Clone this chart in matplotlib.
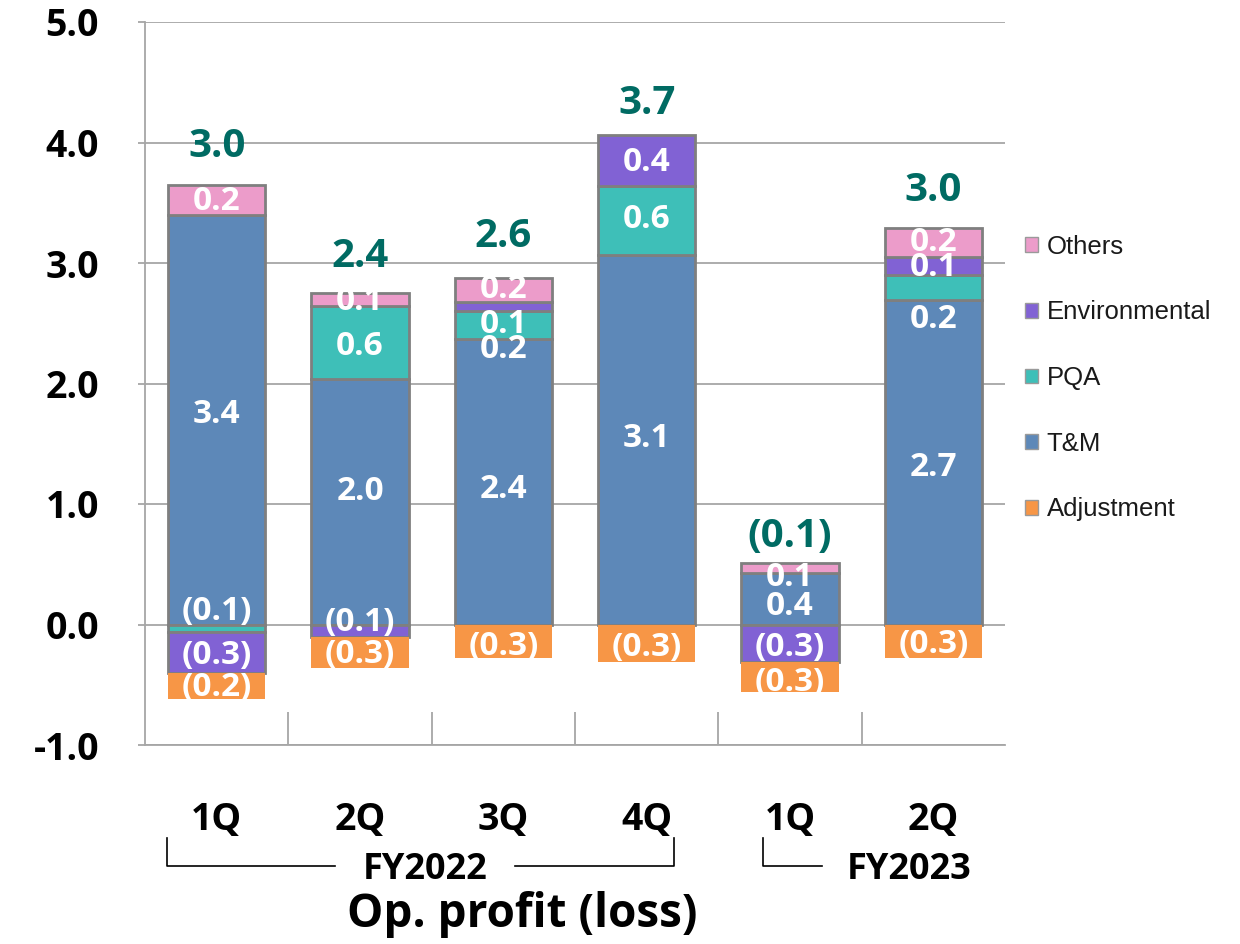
import matplotlib
matplotlib.use('Agg')
import matplotlib.pyplot as plt
from matplotlib.patches import Rectangle, Patch
from matplotlib.lines import Line2D
import numpy as np

plt.rcParams['axes.unicode_minus'] = False
plt.rcParams['font.family'] = ['Open Sans', 'DejaVu Sans']

# ---------------- data ----------------
categories = ['1Q', '2Q', '3Q', '4Q', '1Q', '2Q']
tm = [3.40, 2.04, 2.37, 3.07, 0.43, 2.69]
pqa = [-0.06, 0.60, 0.23, 0.57, 0.0, 0.21]
env = [-0.34, -0.10, 0.075, 0.42, -0.31, 0.15]
others = [0.25, 0.115, 0.20, 0.0, 0.08, 0.24]
adjustment = [-0.22, -0.26, -0.28, -0.31, -0.25, -0.28]

totals_lbl = ['3.0', '2.4', '2.6', '3.7', '(0.1)', '3.0']

tm_lbl = ['3.4', '2.0', '2.4', '3.1', '0.4', '2.7']
pqa_lbl = ['(0.1)', '0.6', '0.2', '0.6', '', '0.2']
env_lbl = ['(0.3)', '(0.1)', '0.1', '0.4', '(0.3)', '0.1']
others_lbl = ['0.2', '0.1', '0.2', '', '0.1', '0.2']
adj_lbl = ['(0.2)', '(0.3)', '(0.3)', '(0.3)', '(0.3)', '(0.3)']

# label positions (data units)
totals_ly = [3.97, 3.05, 3.22, 4.32, 0.73, 3.60]
tm_ly = [1.74, 1.10, 1.12, 1.54, 0.15, 1.30]
pqa_ly = [0.11, 2.31, 2.28, 3.36, 0.0, 2.53]
env_ly = [-0.26, 0.02, 2.49, 3.83, -0.19, 2.96]
others_ly = [3.51, 2.68, 2.78, 0.0, 0.39, 3.17]
adj_ly = [-0.52, -0.25, -0.18, -0.19, -0.48, -0.17]

# ---------------- styling ----------------
C_TM = '#5D88B8'
C_PQA = '#3EBFB8'
C_ENV = '#8162D4'
C_OTH = '#EC9CCA'
C_ADJ = '#F79646'
C_TOT = '#006B63'
EDGE = '#7F7F7F'
GRID = '#A6A6A6'

W, H = 1240, 944
fig = plt.figure(figsize=(W / 100, H / 100), dpi=100)
ax = fig.add_axes([145 / W, 1 - 745 / H, 860 / W, (745 - 22) / H])

x = np.arange(len(categories))
bw = 0.68

series = [
    ('T&M', tm, C_TM, EDGE, tm_lbl, tm_ly),
    ('PQA', pqa, C_PQA, EDGE, pqa_lbl, pqa_ly),
    ('Environmental', env, C_ENV, EDGE, env_lbl, env_ly),
    ('Others', others, C_OTH, EDGE, others_lbl, others_ly),
    ('Adjustment', adjustment, C_ADJ, 'none', adj_lbl, adj_ly),
]

pos = np.zeros(len(x))
neg = np.zeros(len(x))
for name, vals, col, ec, lbl, ly in series:
    v = np.array(vals, dtype=float)
    bottom = np.where(v >= 0, pos, neg)
    mask = v != 0
    ax.bar(x[mask], v[mask], bw, bottom=bottom[mask], color=col,
           edgecolor=ec, linewidth=2.0, zorder=3)
    pos += np.clip(v, 0, None)
    neg += np.clip(v, None, 0)

# inner labels (clipped to the bar extent)
for name, vals, col, ec, lbl, ly in series:
    for i in range(len(x)):
        if not lbl[i]:
            continue
        t = ax.text(x[i], ly[i], lbl[i], ha='center', va='center',
                    color='white', fontsize=24, fontweight='bold', zorder=5)
        clip = Rectangle((x[i] - bw / 2 - 0.02, neg[i]), bw + 0.04,
                         pos[i] - neg[i], transform=ax.transData)
        t.set_clip_path(clip)

# totals
for i in range(len(x)):
    ax.text(x[i], totals_ly[i], totals_lbl[i], ha='center', va='center',
            color=C_TOT, fontsize=29, fontweight='bold', zorder=5)

# axes
ax.set_xlim(-0.5, len(x) - 0.5)
ax.set_ylim(-1.0, 5.0)
ax.set_yticks(np.arange(-1, 6, 1))
ax.set_yticklabels([f'{v:.1f}' for v in np.arange(-1, 6, 1)],
                   fontsize=27, fontweight='bold')
ax.yaxis.grid(True, color=GRID, linewidth=1.3, zorder=0)
ax.set_axisbelow(True)
for s in ['top', 'right']:
    ax.spines[s].set_visible(False)
for s in ['left', 'bottom']:
    ax.spines[s].set_color(GRID)
    ax.spines[s].set_linewidth(1.3)
ax.tick_params(axis='y', length=5, color=GRID, pad=28, width=1.3)

ax.set_xticks(x)
ax.set_xticklabels(categories, fontsize=27, fontweight='bold')
ax.set_xticks(np.arange(0.5, len(x) - 0.5, 1), minor=True)
ax.tick_params(axis='x', which='major', length=0, pad=40)
ax.tick_params(axis='x', which='minor', direction='in', length=24,
               color=GRID, width=1.3)

# fiscal-year brackets (figure pixel coordinates)
def fx(px):
    return px / W

def fy(py):
    return 1 - py / H

lk = dict(color='black', linewidth=1.2, transform=fig.transFigure)
fig.add_artist(Line2D([fx(167), fx(167), fx(335)], [fy(838), fy(866), fy(866)], **lk))
fig.add_artist(Line2D([fx(515), fx(674), fx(674)], [fy(866), fy(866), fy(838)], **lk))
fig.add_artist(Line2D([fx(763), fx(763), fx(822)], [fy(838), fy(866), fy(866)], **lk))
fig.text(fx(425), fy(870), 'FY2022', ha='center', va='center',
         fontsize=26, fontweight='bold')
fig.text(fx(909), fy(870), 'FY2023', ha='center', va='center',
         fontsize=26, fontweight='bold')
fig.text(fx(522), fy(914), 'Op. profit (loss)', ha='center', va='center',
         fontsize=33, fontweight='bold')

# legend
handles = [Patch(facecolor=c, edgecolor='#9A9A9A', linewidth=1.0)
           for c in [C_OTH, C_ENV, C_PQA, C_TM, C_ADJ]]
labels = ['Others', 'Environmental', 'PQA', 'T&M', 'Adjustment']
fig.legend(handles, labels, loc='upper left',
           bbox_to_anchor=(fx(1012), fy(222)), frameon=False,
           prop={'family': 'Liberation Sans', 'size': 18.5},
           handlelength=0.5, handleheight=0.5, handletextpad=0.35,
           labelspacing=1.62, borderpad=0, labelcolor='#1A1A1A')

fig.savefig('out.png', dpi=100)
